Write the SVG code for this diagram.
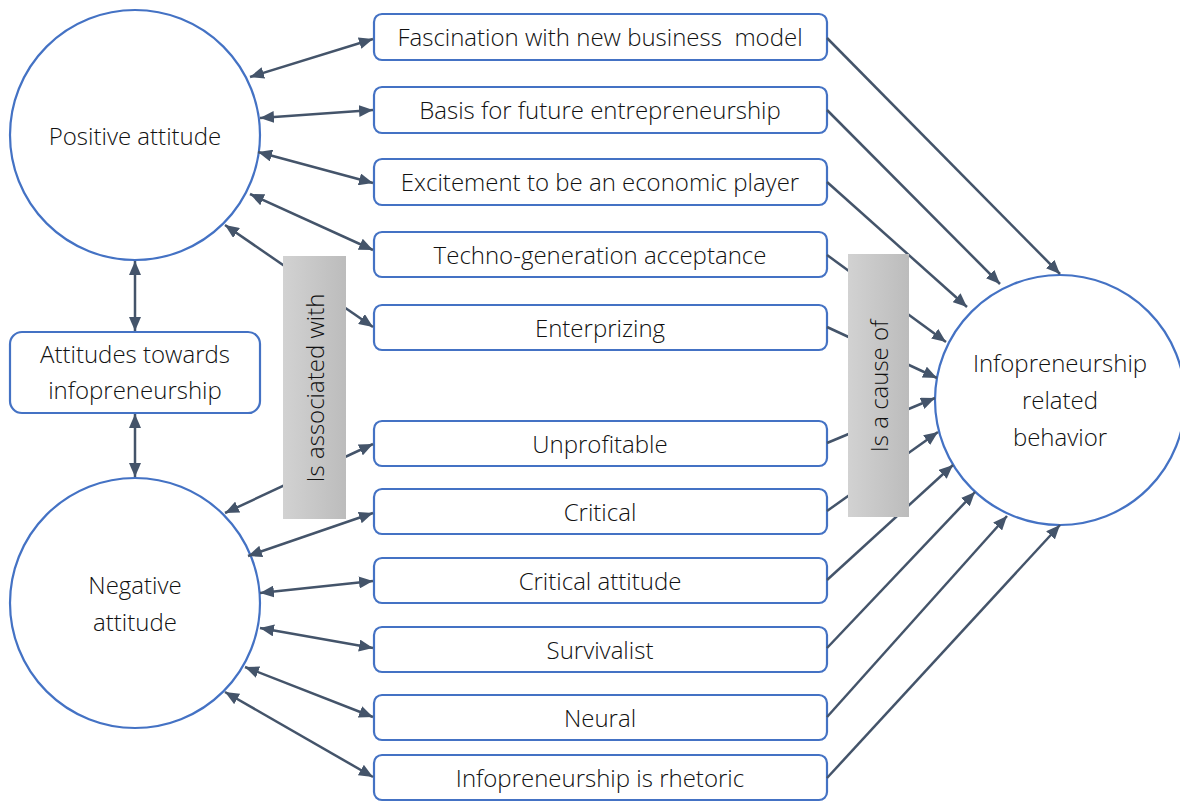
<svg xmlns="http://www.w3.org/2000/svg" width="1180" height="803" viewBox="0 0 1180 803">
<defs>
<marker id="ah" viewBox="0 0 14 12" refX="14" refY="6" markerWidth="14" markerHeight="12" markerUnits="userSpaceOnUse" orient="auto-start-reverse">
<path d="M0,0 L14,6 L0,12 z" fill="#44546A"/>
</marker>
<linearGradient id="gr" x1="0" y1="0" x2="1" y2="0">
<stop offset="0" stop-color="#d2d2d2"/>
<stop offset="1" stop-color="#bcbcbc"/>
</linearGradient>
</defs>
<style>
.c{fill:#fff;stroke:#4472C4;stroke-width:2.2}
.b{fill:#fff;stroke:#4472C4;stroke-width:2.2}
.t{font-family:"Open Sans","Noto Sans",sans-serif;font-weight:300;font-size:24px;fill:#111;text-anchor:middle}
.d{stroke:#44546A;stroke-width:2.5;fill:none;marker-start:url(#ah);marker-end:url(#ah)}
.s{stroke:#44546A;stroke-width:2.5;fill:none;marker-end:url(#ah)}
.g{fill:url(#gr)}
</style>
<rect width="1180" height="803" fill="#fff"/>
<g id="positive"><circle class="c" cx="135" cy="135" r="125"/><text class="t" x="135" y="145">Positive attitude</text></g>
<g id="attitudes"><rect class="b" x="10" y="332" width="250" height="81" rx="12"/><text class="t" x="135" y="363">Attitudes towards</text><text class="t" x="135" y="399">infopreneurship</text></g>
<g id="negative"><circle class="c" cx="135" cy="603" r="125"/><text class="t" x="135" y="594">Negative</text><text class="t" x="135" y="631">attitude</text></g>
<g id="behavior"><circle class="c" cx="1060" cy="400" r="125"/><text class="t" x="1060" y="372">Infopreneurship</text><text class="t" x="1060" y="409">related</text><text class="t" x="1060" y="446">behavior</text></g>
<g id="n1"><rect class="b" x="374" y="14" width="453" height="46" rx="8"/><text class="t" x="600" y="46" xml:space="preserve">Fascination with new business  model</text></g>
<g id="n2"><rect class="b" x="374" y="87" width="453" height="46" rx="8"/><text class="t" x="600" y="119">Basis for future entrepreneurship</text></g>
<g id="n3"><rect class="b" x="374" y="159" width="453" height="46" rx="8"/><text class="t" x="600" y="191">Excitement to be an economic player</text></g>
<g id="n4"><rect class="b" x="374" y="232" width="453" height="45" rx="8"/><text class="t" x="600" y="264">Techno-generation acceptance</text></g>
<g id="n5"><rect class="b" x="374" y="305" width="453" height="45" rx="8"/><text class="t" x="600" y="337">Enterprizing</text></g>
<g id="n6"><rect class="b" x="374" y="421" width="453" height="45" rx="8"/><text class="t" x="600" y="453">Unprofitable</text></g>
<g id="n7"><rect class="b" x="374" y="489" width="453" height="45" rx="8"/><text class="t" x="600" y="521">Critical</text></g>
<g id="n8"><rect class="b" x="374" y="558" width="453" height="45" rx="8"/><text class="t" x="600" y="590">Critical attitude</text></g>
<g id="n9"><rect class="b" x="374" y="627" width="453" height="45" rx="8"/><text class="t" x="600" y="659">Survivalist</text></g>
<g id="n10"><rect class="b" x="374" y="695" width="453" height="45" rx="8"/><text class="t" x="600" y="727">Neural</text></g>
<g id="n11"><rect class="b" x="374" y="755" width="453" height="45" rx="8"/><text class="t" x="600" y="787">Infopreneurship is rhetoric</text></g>
<g id="connectors">
<line class="d" x1="135" y1="261" x2="135" y2="331"/>
<line class="d" x1="135" y1="414" x2="135" y2="477"/>
<line class="d" x1="250" y1="77" x2="373" y2="39"/>
<line class="d" x1="260" y1="118" x2="373" y2="110"/>
<line class="d" x1="258" y1="152" x2="373" y2="183"/>
<line class="d" x1="250" y1="194" x2="373" y2="250"/>
<line class="d" x1="225" y1="225" x2="373" y2="327"/>
<line class="d" x1="225" y1="513" x2="373" y2="444"/>
<line class="d" x1="248" y1="556" x2="373" y2="513"/>
<line class="d" x1="260" y1="593" x2="373" y2="581"/>
<line class="d" x1="260" y1="628" x2="373" y2="648"/>
<line class="d" x1="245" y1="667" x2="373" y2="717"/>
<line class="d" x1="225" y1="692" x2="373" y2="777"/>
<line class="s" x1="827" y1="38" x2="1060" y2="274"/>
<line class="s" x1="827" y1="110" x2="1000" y2="284"/>
<line class="s" x1="827" y1="182" x2="967" y2="307"/>
<line class="s" x1="827" y1="255" x2="946" y2="342"/>
<line class="s" x1="827" y1="327" x2="937" y2="378"/>
<line class="s" x1="827" y1="443" x2="935" y2="398"/>
<line class="s" x1="827" y1="511" x2="938" y2="432"/>
<line class="s" x1="827" y1="580" x2="953" y2="465"/>
<line class="s" x1="827" y1="648" x2="975" y2="492"/>
<line class="s" x1="827" y1="717" x2="1007" y2="516"/>
<line class="s" x1="827" y1="778" x2="1060" y2="525"/>
</g>
<g id="label-associated"><rect class="g" x="283" y="256" width="63" height="263"/><text class="t" transform="translate(324,388) rotate(-90)" x="0" y="0">Is associated with</text></g>
<g id="label-cause"><rect class="g" x="848" y="254" width="61" height="263"/><text class="t" transform="translate(888,386) rotate(-90)" x="0" y="0">Is a cause of</text></g>
</svg>
